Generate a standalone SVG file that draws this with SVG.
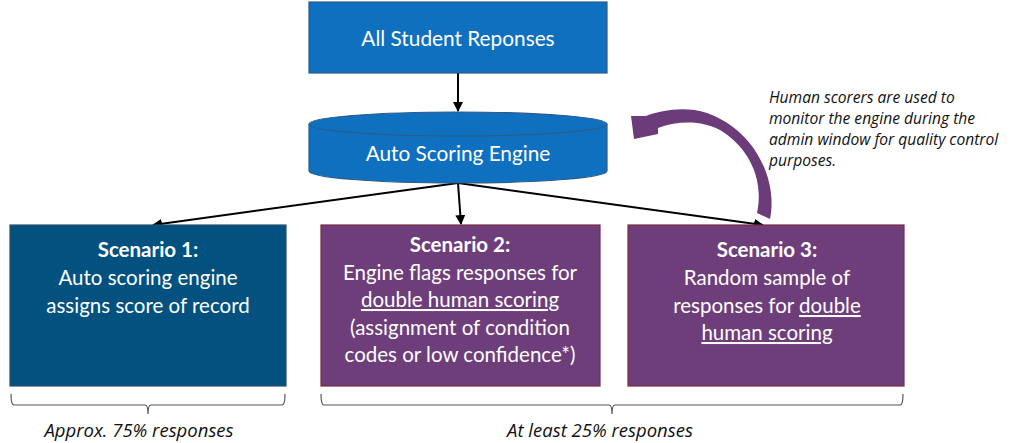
<svg xmlns="http://www.w3.org/2000/svg" width="1013" height="443" viewBox="0 0 1013 443">
<defs>
<style>
.blue{fill:#1070c0;stroke:#2e5a86;stroke-width:1.2}
.s1{fill:#03517f;stroke:#2e4f6e;stroke-width:1.2}
.pur{fill:#6e3e7b;stroke:#7a2c3c;stroke-width:1.2}
.t{font-family:Lato,"Open Sans","Liberation Sans",sans-serif;fill:#ffffff;text-anchor:middle}
.big{font-size:20.8px}
.sc{font-size:20.5px}
.b{font-weight:bold}
.u{text-decoration:underline}
.it{font-family:"Open Sans",Lato,"Liberation Sans",sans-serif;font-style:italic;fill:#111}
.conn{stroke:#000;stroke-width:2;fill:none}
.br{stroke:#555;stroke-width:1.2;fill:none}
</style>
<marker id="ah" viewBox="0 0 10 10" refX="9" refY="5" markerWidth="5" markerHeight="5" orient="auto" markerUnits="strokeWidth">
<path d="M0,0 L10,5 L0,10 z" fill="#000"/>
</marker>
</defs>
<rect width="1013" height="443" fill="#ffffff"/>

<g id="connectors">
<line class="conn" x1="458" y1="73" x2="458" y2="111" marker-end="url(#ah)"/>
<line class="conn" x1="458" y1="183" x2="153" y2="225" marker-end="url(#ah)"/>
<line class="conn" x1="458" y1="183" x2="461" y2="224" marker-end="url(#ah)"/>
<line class="conn" x1="458" y1="183" x2="763" y2="225" marker-end="url(#ah)"/>
<path id="feedback-arrow" fill="#6b3b7a" d="M770,219 C778,180 755,130 707,113 C685,106 662,110 646,116 L631,116 L634,139 L658,134 L658,128 C680,120 703,121 720,130 C745,145 765,175 757,213 Z"/>
</g>

<g id="all-student-responses">
<rect class="blue" x="309" y="2" width="298" height="71"/>
<text class="t big" x="458" y="46">All Student Reponses</text>
</g>

<g id="auto-scoring-engine">
<path class="blue" d="M309,124 L309,171 A149,12 0 0 0 607,171 L607,124"/>
<ellipse class="blue" cx="458" cy="124" rx="149" ry="12"/>
<text class="t big" x="458" y="161">Auto Scoring Engine</text>
</g>

<g id="scenario-1">
<rect class="s1" x="10" y="225" width="276" height="161"/>
<text class="t sc b" x="148" y="257">Scenario 1:</text>
<text class="t sc" x="148" y="285">Auto scoring engine</text>
<text class="t sc" x="148" y="313">assigns score of record</text>
</g>

<g id="scenario-2">
<rect class="pur" x="321" y="225" width="279" height="161"/>
<text class="t sc b" x="460" y="252">Scenario 2:</text>
<text class="t sc" x="460" y="280">Engine flags responses for</text>
<text class="t sc u" x="460" y="307">double human scoring</text>
<text class="t sc" x="460" y="335">(assignment of condition</text>
<text class="t sc" x="460" y="362">codes or low confidence*)</text>
</g>

<g id="scenario-3">
<rect class="pur" x="628" y="225" width="276" height="161"/>
<text class="t sc b" x="767" y="257">Scenario 3:</text>
<text class="t sc" x="767" y="285">Random sample of</text>
<text class="t sc" x="767" y="313">responses for <tspan class="u">double</tspan></text>
<text class="t sc u" x="767" y="340">human scoring</text>
</g>

<g id="annotation">
<text class="it" font-size="15.6">
<tspan x="769" y="103">Human scorers are used to</tspan>
<tspan x="769" y="124">monitor the engine during the</tspan>
<tspan x="769" y="145">admin window for quality control</tspan>
<tspan x="769" y="166">purposes.</tspan>
</text>
</g>

<g id="bracket-75">
<path class="br" d="M11,394 Q11,405 14,405 L145,405 Q148,405 148,414 Q148,405 151,405 L282,405 Q285,405 285,394"/>
<text class="it" font-size="18.5" x="139" y="437" text-anchor="middle">Approx. 75% responses</text>
</g>

<g id="bracket-25">
<path class="br" d="M321,394 Q321,405 324,405 L609,405 Q612,405 612,414 Q612,405 615,405 L900,405 Q903,405 903,394"/>
<text class="it" font-size="18.5" x="600" y="437" text-anchor="middle">At least 25% responses</text>
</g>
</svg>
